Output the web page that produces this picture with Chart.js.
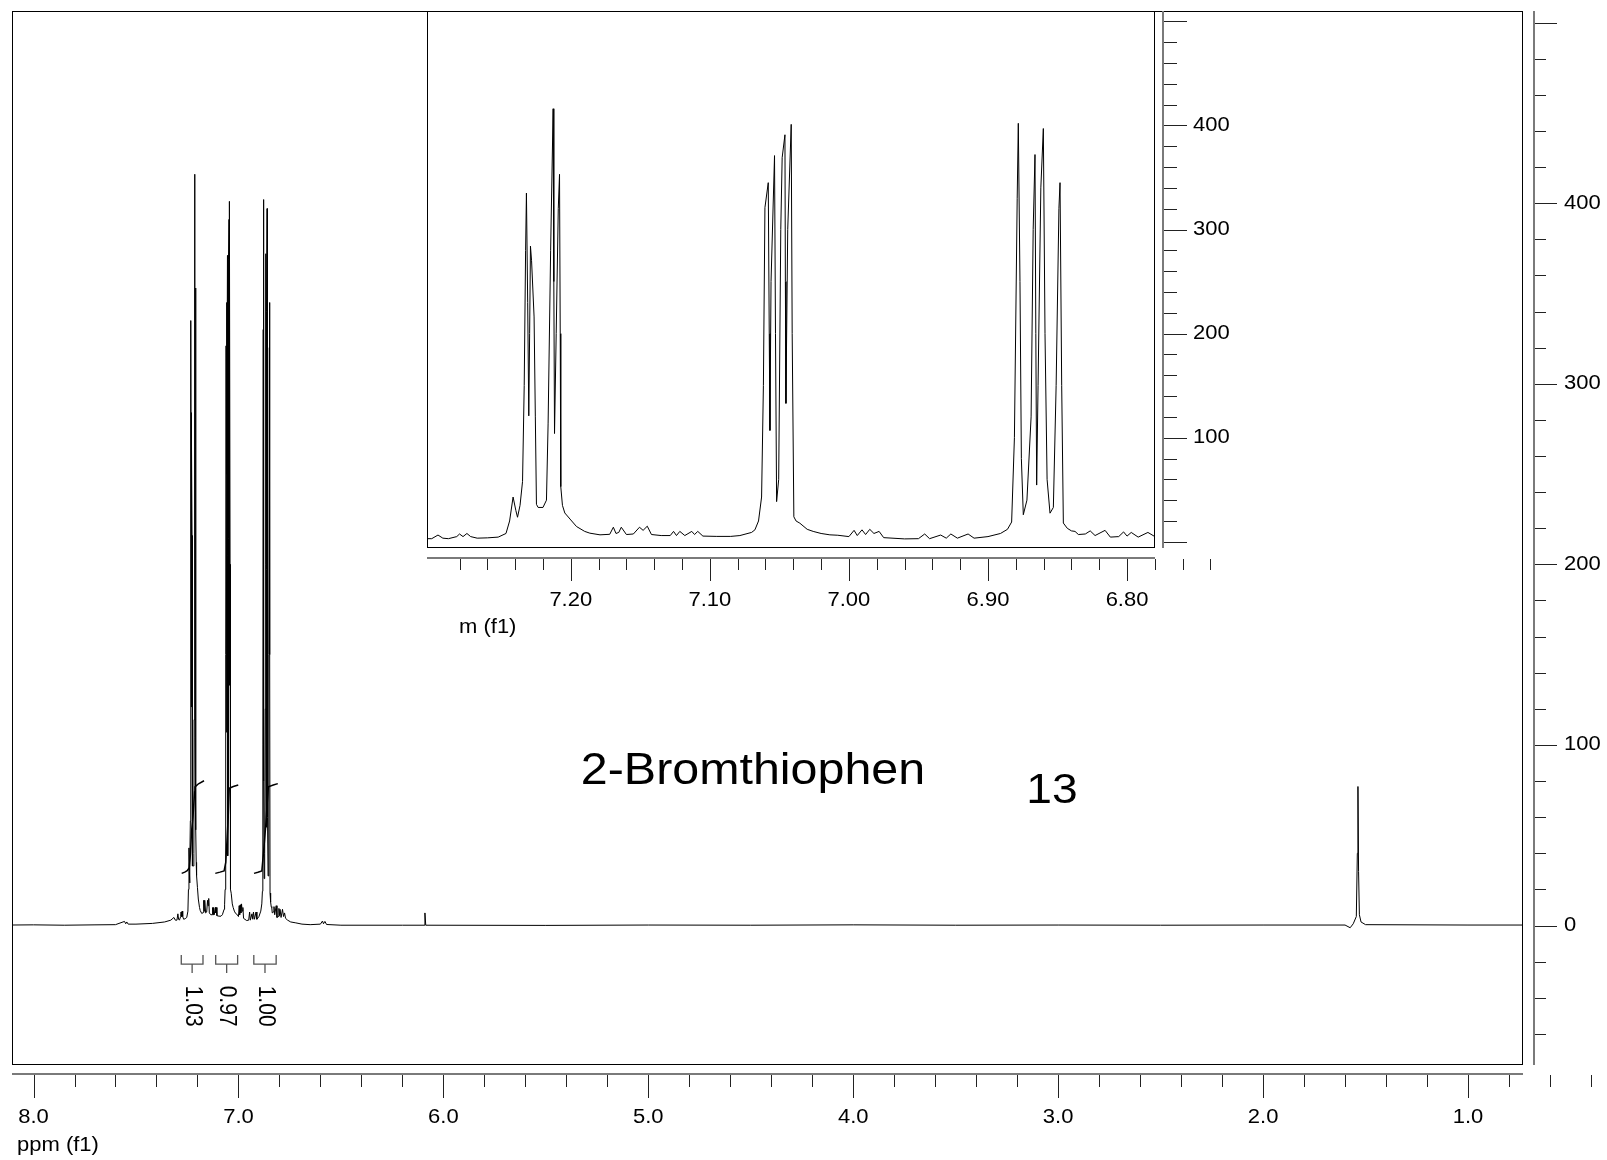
<!DOCTYPE html>
<html>
<head>
<meta charset="utf-8">
<script src="https://cdn.jsdelivr.net/npm/chart.js@4.4.0/dist/chart.umd.min.js"></script>
<style>
  body { margin: 0; background: #fff; }
  #wrap { position: relative; width: 1607px; height: 1160px; }
  #wrap canvas { position: absolute; left: 0; top: 0; }
</style>
</head>
<body>
<div id="wrap">
  <canvas id="mainChart" width="1607" height="1160"></canvas>
  <canvas id="insetChart" width="1607" height="1160"></canvas>
</div>
<script>
// 1H spectrum, chemical shift (ppm) and intensity
const shiftPpm = [
  8.12, 8.00, 7.85, 7.70, 7.60, 7.556, 7.550, 7.545, 7.538, 7.50, 7.42, 7.36, 7.33, 7.315, 7.308,
  7.300, 7.2955, 7.292, 7.288, 7.282, 7.280, 7.2775, 7.2747, 7.272, 7.2673, 7.260, 7.2522, 7.2466, 7.244,
  7.2415, 7.2395, 7.2383, 7.2365, 7.2347, 7.2335, 7.2325, 7.2319, 7.2310, 7.2302, 7.2296, 7.2290, 7.2282,
  7.2264, 7.2255, 7.2247, 7.2235, 7.2200, 7.2175, 7.2163, 7.2145, 7.2127, 7.2122, 7.2117, 7.2105, 7.2090,
  7.2081, 7.2076, 7.2072, 7.2060, 7.2043, 7.2000, 7.1959, 7.1900, 7.1863, 7.1790, 7.1720, 7.1694, 7.1675,
  7.1655, 7.1637, 7.1600, 7.1550, 7.1506, 7.1480, 7.1450, 7.1420, 7.1350, 7.1285, 7.1261, 7.1240, 7.1216,
  7.1180, 7.1130, 7.1110, 7.1087, 7.1050, 7.0950, 7.0850, 7.0784, 7.0700, 7.0676, 7.0650, 7.0628, 7.0615,
  7.0604, 7.0580, 7.0573, 7.0568, 7.0560, 7.0535, 7.0528, 7.0520, 7.0505, 7.0490, 7.0480, 7.0460, 7.0457,
  7.0453, 7.0440, 7.0415, 7.0408, 7.0396, 7.0380, 7.0353, 7.0300, 7.0257, 7.0200, 7.0137, 7.0080, 7.0000,
  6.9963, 6.9940, 6.9906, 6.9880, 6.9850, 6.9820, 6.9783, 6.9750, 6.9600, 6.9500, 6.9455, 6.9420, 6.9340,
  6.9300, 6.9267, 6.9220, 6.9143, 6.9100, 6.9000, 6.8910, 6.8860, 6.8830, 6.8810, 6.8790, 6.8782, 6.8770,
  6.8760, 6.8746, 6.8720, 6.8690, 6.8675, 6.8662, 6.8656, 6.8650, 6.8640, 6.8620, 6.8602, 6.8590, 6.8575,
  6.8554, 6.8530, 6.8510, 6.8490, 6.8482, 6.8470, 6.8458, 6.8430, 6.8400, 6.8374, 6.8350, 6.8300, 6.8265,
  6.8230, 6.8158, 6.8120, 6.8060, 6.8025, 6.8000, 6.7970, 6.7920, 6.7850, 6.7800, 6.7750, 6.7700, 6.7600,
  6.7450, 6.7200, 6.6900, 6.6500, 6.6000, 6.5900, 6.5850, 6.5780, 6.5700, 6.5000, 6.2000, 6.0940, 6.0900,
  6.0860, 5.5000, 5.0000, 4.5000, 4.0000, 3.5000, 3.0000, 2.5000, 2.0000, 1.6000, 1.5750, 1.5600, 1.5450,
  1.5400, 1.5370, 1.5340, 1.5300, 1.5220, 1.5000, 1.0000, 0.6000
];
const intensity = [
  0.3, 0.4, 0.2, 0.4, 0.5, 2.3, 1.0, 2.0, 0.8, 0.8, 1.2, 2.0, 3.0, 4.5, 3.0,
  3.0, 6.5, 3.5, 3.0, 5.0, 7.5, 5.0, 8.0, 5.0, 3.5, 3.8, 4.5, 8, 20,
  43, 30, 23.6, 35, 58, 150, 280, 335, 230, 121, 200, 284, 270,
  216, 120, 36, 33, 33, 40, 114, 280, 416, 250, 104, 200, 320,
  353, 200, 53, 35, 27.7, 21, 14.7, 10, 8.3, 6.7, 7.2, 14, 8,
  9, 14, 7, 7.5, 14, 11, 15, 7, 6, 6, 10, 6, 10,
  6, 10, 7, 10, 5.5, 5.2, 5.2, 6.0, 9, 11.5, 20, 43, 150,
  321, 345, 200, 107, 250, 371, 200, 38.6, 60, 300, 369, 391, 250,
  133, 300, 401, 200, 24, 20, 17.9, 12, 10, 8, 6.7, 6.3, 5,
  11, 6, 11.5, 7, 12, 8, 10, 4, 2.8, 3.0, 7.5, 3, 6.5,
  3.5, 7.5, 3.5, 7.5, 3.5, 5, 8, 12, 19, 100, 330, 402, 250,
  80, 26, 40, 120, 300, 372, 200, 54.5, 150, 340, 397, 200, 60,
  27.5, 33, 150, 320, 345, 150, 18, 13, 10.5, 10, 7, 7.5, 10.5,
  6, 11, 4.5, 5, 9.5, 5.5, 9, 4.5, 9, 5, 7, 4, 3,
  2, 1.5, 0.8, 0.5, 0.8, 2.5, 1, 2.3, 0.6, 0.2, 0.2, 0.2, 7,
  0.2, 0.1, 0.3, 0.2, 0.4, 0.2, 0.3, 0.2, 0.3, 0.3, -1.2, 1.0, 5,
  40, 77, 30, 6, 2, 0.5, 0.3, 0.3
];

// integral curves (ppm, running integral in plot units)
const integralPpmA = [7.277, 7.262, 7.250, 7.240, 7.234, 7.229, 7.222, 7.214, 7.212, 7.195, 7.168];
const integralValA = [28.9, 29.6, 30.4, 32, 40, 52, 60, 74, 76.8, 78.5, 80.2];
const integralPpmB = [7.113, 7.090, 7.070, 7.062, 7.056, 7.050, 7.045, 7.025, 7.001];
const integralValB = [28.9, 29.6, 30.3, 35, 47, 60, 76, 77, 77.8];
const integralPpmC = [6.924, 6.905, 6.886, 6.878, 6.867, 6.860, 6.854, 6.830, 6.808];
const integralValC = [28.9, 29.5, 30.2, 40, 55, 67, 76.8, 77.8, 78.6];

const integralStart = [7.279, 7.111, 6.925];
const integralEnd = [7.173, 7.004, 6.816];
const integralLabels = ['1.03', '0.97', '1.00'];

// axes
const mainXMajor = [8, 7, 6, 5, 4, 3, 2, 1];
const mainXLabels = ['8.0', '7.0', '6.0', '5.0', '4.0', '3.0', '2.0', '1.0'];
const mainYMajor = [500, 400, 300, 200, 100, 0];
const mainYLabels = ['', '400', '300', '200', '100', '0'];
const insetXMajor = [7.2, 7.1, 7.0, 6.9, 6.8];
const insetXLabels = ['7.20', '7.10', '7.00', '6.90', '6.80'];
const insetYMajor = [500, 400, 300, 200, 100, 0];
const insetYLabels = ['', '400', '300', '200', '100', ''];

const titleText = '2-Bromthiophen';
const titlePos = [4.489, 85];
const compoundText = '13';
const compoundPos = [3.03, 74.5];

const FONT = '"Liberation Sans", Arial, Helvetica, sans-serif';

function toPoints(xs, ys) {
  return xs.map((x, i) => ({ x: x, y: ys[i] }));
}

function stretchText(ctx, text, x, y, size, align) {
  ctx.save();
  ctx.translate(x, y);
  ctx.scale(1.1, 1);
  ctx.font = size + 'px ' + FONT;
  ctx.textAlign = align;
  ctx.textBaseline = 'middle';
  ctx.fillStyle = '#000';
  ctx.fillText(text, 0, 0);
  ctx.restore();
}

function near(list, v) {
  return list.findIndex(m => Math.abs(m - v) < 1e-6);
}

// frame + offset axes drawn from the chart's own scales
function frameAxes(o) {
  return {
    id: 'frameAxes',
    beforeDraw(chart) {
      const { ctx, chartArea: a } = chart;
      ctx.save();
      ctx.fillStyle = '#fff';
      if (o.fillAll) ctx.fillRect(0, 0, chart.width, chart.height);
      else ctx.fillRect(a.left, a.top, a.width, a.height);
      ctx.restore();
    },
    afterDraw(chart) {
      const { ctx, chartArea: a, scales: { x, y } } = chart;
      ctx.save();
      ctx.strokeStyle = '#000';
      ctx.lineWidth = 1;
      ctx.strokeRect(a.left + 0.5, a.top + 0.5, a.width - 1, a.height - 1);

      const ay = a.bottom + o.xGap;
      const ax = a.right + o.yGap;
      ctx.strokeStyle = '#7a7a7a';
      ctx.lineWidth = 2;
      ctx.beginPath();
      ctx.moveTo(a.left, ay); ctx.lineTo(a.right, ay);
      ctx.moveTo(ax, a.top); ctx.lineTo(ax, a.bottom);
      ctx.stroke();

      ctx.strokeStyle = '#222';
      ctx.lineWidth = 1;
      ctx.beginPath();
      const nx = Math.round((o.xFrom - o.xTo) / o.xStep);
      for (let k = 0; k <= nx; k++) {
        const v = +(o.xFrom - k * o.xStep).toFixed(4);
        const px = Math.round(x.getPixelForValue(v)) + 0.5;
        const len = near(o.xMajor, v) >= 0 ? o.xMajorLen : o.xMinorLen;
        ctx.moveTo(px, ay + 1); ctx.lineTo(px, ay + len);
      }
      const ny = Math.round((o.yFrom - o.yTo) / o.yStep);
      for (let k = 0; k <= ny; k++) {
        const v = +(o.yFrom - k * o.yStep).toFixed(4);
        const py = Math.round(y.getPixelForValue(v)) + 0.5;
        const len = near(o.yMajor, v) >= 0 ? o.yMajorLen : o.yMinorLen;
        ctx.moveTo(ax + 1, py); ctx.lineTo(ax + len, py);
      }
      ctx.stroke();

      o.xMajor.forEach((v, i) => {
        stretchText(ctx, o.xLabels[i], x.getPixelForValue(v), ay + o.xLabelOff, 20, 'center');
      });
      o.yMajor.forEach((v, i) => {
        if (o.yLabels[i]) stretchText(ctx, o.yLabels[i], ax + o.yLabelOff, y.getPixelForValue(v), 20, 'left');
      });
      stretchText(ctx, o.xTitle, a.left + o.xTitleDx, ay + o.xTitleOff, 20, 'left');
      ctx.restore();
    }
  };
}

const annotations = {
  id: 'annotations',
  afterDatasetsDraw(chart) {
    const { ctx, scales: { x, y } } = chart;
    ctx.save();
    ctx.strokeStyle = '#555';
    ctx.lineWidth = 1.3;
    const yTop = y.getPixelForValue(-16.3);
    const yBar = y.getPixelForValue(-21.3);
    const yStem = y.getPixelForValue(-26.3);
    const yText = y.getPixelForValue(-44.6);
    integralStart.forEach((s, i) => {
      const x0 = x.getPixelForValue(s);
      const x1 = x.getPixelForValue(integralEnd[i]);
      const xm = (x0 + x1) / 2;
      ctx.beginPath();
      ctx.moveTo(x0, yTop); ctx.lineTo(x0, yBar); ctx.lineTo(x1, yBar); ctx.lineTo(x1, yTop);
      ctx.moveTo(xm, yBar); ctx.lineTo(xm, yStem);
      ctx.stroke();
      ctx.save();
      ctx.translate(xm, yText);
      ctx.scale(1.1, 1);
      ctx.rotate(Math.PI / 2);
      ctx.font = '21px ' + FONT;
      ctx.textAlign = 'center';
      ctx.textBaseline = 'middle';
      ctx.fillStyle = '#000';
      ctx.fillText(integralLabels[i], 0, 0);
      ctx.restore();
    });
    stretchText(ctx, titleText, x.getPixelForValue(titlePos[0]), y.getPixelForValue(titlePos[1]), 44, 'center');
    stretchText(ctx, compoundText, x.getPixelForValue(compoundPos[0]), y.getPixelForValue(compoundPos[1]), 42, 'center');
    ctx.restore();
  }
};

function lineSet(points, width) {
  return {
    data: points,
    borderColor: '#000',
    borderWidth: width,
    pointRadius: 0,
    tension: 0,
    fill: false
  };
}

function baseOptions(pad, xMin, xMax, yMin, yMax) {
  return {
    responsive: false,
    animation: false,
    events: [],
    layout: { padding: pad },
    plugins: { legend: { display: false }, tooltip: { enabled: false } },
    scales: {
      x: { type: 'linear', reverse: true, min: xMin, max: xMax, display: false },
      y: { type: 'linear', min: yMin, max: yMax, display: false }
    }
  };
}

const spectrum = toPoints(shiftPpm, intensity);

new Chart(document.getElementById('mainChart'), {
  type: 'line',
  data: {
    datasets: [
      lineSet(spectrum, 1),
      lineSet(toPoints(integralPpmA, integralValA), 1.5),
      lineSet(toPoints(integralPpmB, integralValB), 1.5),
      lineSet(toPoints(integralPpmC, integralValC), 1.5)
    ]
  },
  options: baseOptions({ left: 12, top: 11, right: 84, bottom: 95 }, 0.7316, 8.105, -77.2, 506.4),
  plugins: [frameAxes({
    fillAll: true,
    xGap: 9, xFrom: 8.0, xTo: 0.4, xStep: 0.2, xMajor: mainXMajor, xLabels: mainXLabels,
    xMinorLen: 13, xMajorLen: 24, xLabelOff: 43, xTitle: 'ppm (f1)', xTitleDx: 5, xTitleOff: 71,
    yGap: 11, yFrom: 500, yTo: -60, yStep: 20, yMajor: mainYMajor, yLabels: mainYLabels,
    yMinorLen: 12, yMajorLen: 23, yLabelOff: 30
  }), annotations]
});

new Chart(document.getElementById('insetChart'), {
  type: 'line',
  data: { datasets: [lineSet(spectrum, 1)] },
  options: baseOptions({ left: 427, top: 11, right: 452, bottom: 612 }, 6.7799, 7.3034, -5.95, 509.9),
  plugins: [frameAxes({
    fillAll: false,
    xGap: 10, xFrom: 7.28, xTo: 6.74, xStep: 0.02, xMajor: insetXMajor, xLabels: insetXLabels,
    xMinorLen: 12, xMajorLen: 23, xLabelOff: 42, xTitle: 'm (f1)', xTitleDx: 32, xTitleOff: 69,
    yGap: 8, yFrom: 500, yTo: 0, yStep: 20, yMajor: insetYMajor, yLabels: insetYLabels,
    yMinorLen: 14, yMajorLen: 24, yLabelOff: 30
  })]
});
</script>
</body>
</html>
